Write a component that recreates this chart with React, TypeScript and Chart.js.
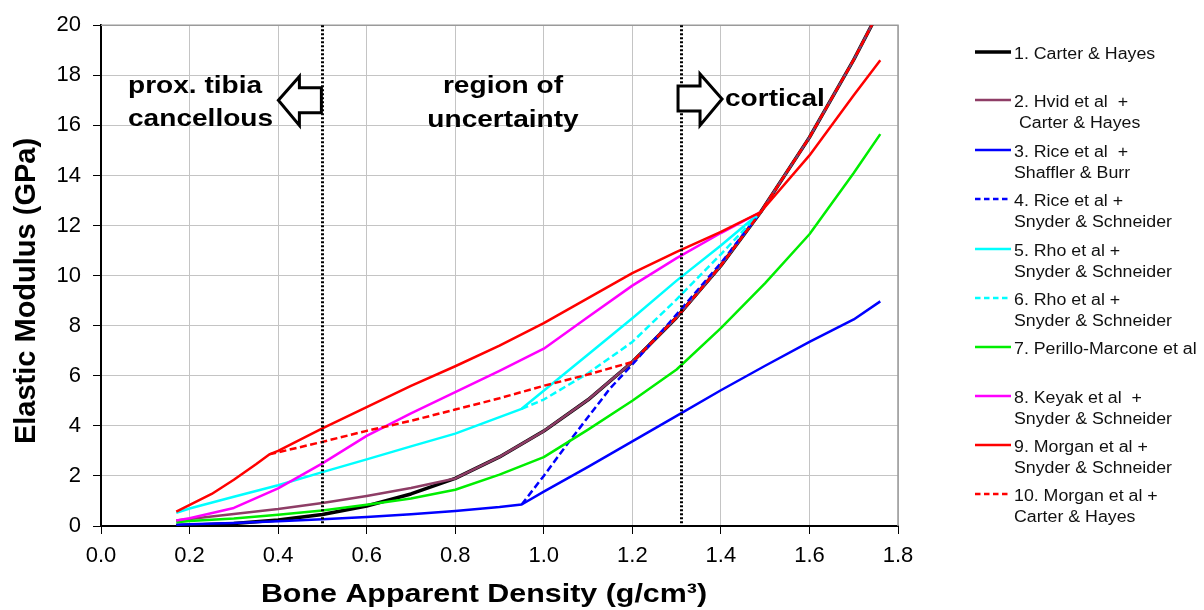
import { useEffect, useRef } from "react";
import { Chart, registerables } from "chart.js";

Chart.register(...registerables);

const FONT = '"Liberation Sans", Arial, Helvetica, sans-serif';

// Bone apparent density (g/cm3) and elastic modulus (GPa) for each relationship
const carterHayesDensity = [0.17, 0.2, 0.3, 0.4, 0.5, 0.6, 0.7, 0.8, 0.9, 1.0, 1.1, 1.2, 1.3, 1.4, 1.49, 1.6, 1.7, 1.76];
const carterHayesModulus = [0.02, 0.03, 0.1, 0.24, 0.46, 0.8, 1.28, 1.9, 2.76, 3.79, 5.04, 6.55, 8.33, 10.4, 12.54, 15.52, 18.62, 20.66];

const hvidDensity = [0.17, 0.2, 0.3, 0.4, 0.5, 0.6, 0.7, 0.8, 0.9, 1.0, 1.1, 1.2, 1.3, 1.4, 1.49, 1.6, 1.7, 1.76];
const hvidModulus = [0.22, 0.28, 0.48, 0.68, 0.92, 1.2, 1.52, 1.9, 2.76, 3.79, 5.04, 6.55, 8.33, 10.4, 12.54, 15.52, 18.62, 20.66];

const riceShafflerDensity = [0.17, 0.2, 0.3, 0.4, 0.5, 0.6, 0.7, 0.8, 0.9, 0.95, 1.0, 1.1, 1.2, 1.3, 1.4, 1.5, 1.6, 1.7, 1.76];
const riceShafflerModulus = [0.05, 0.07, 0.12, 0.19, 0.27, 0.36, 0.47, 0.6, 0.76, 0.86, 1.37, 2.36, 3.38, 4.4, 5.42, 6.4, 7.35, 8.25, 8.97];

const riceSnyderDensity = [0.95, 1.0, 1.05, 1.1, 1.15, 1.2, 1.25, 1.3, 1.4, 1.49];
const riceSnyderModulus = [0.86, 2.0, 3.2, 4.35, 5.5, 6.45, 7.45, 8.45, 10.5, 12.54];

const rhoSnyderDensity = [0.17, 0.2, 0.3, 0.4, 0.5, 0.6, 0.7, 0.8, 0.95, 1.1, 1.2, 1.3, 1.4, 1.49];
const rhoSnyderModulus = [0.53, 0.7, 1.17, 1.63, 2.15, 2.66, 3.18, 3.69, 4.68, 6.85, 8.3, 9.8, 11.2, 12.54];

const rhoCarterDensity = [0.95, 1.0, 1.1, 1.2, 1.3, 1.4, 1.49];
const rhoCarterModulus = [4.68, 5.05, 6.1, 7.35, 9.05, 10.85, 12.54];

const perilloDensity = [0.17, 0.2, 0.3, 0.4, 0.5, 0.6, 0.7, 0.8, 0.9, 1.0, 1.1, 1.2, 1.3, 1.4, 1.5, 1.6, 1.7, 1.76];
const perilloModulus = [0.15, 0.2, 0.3, 0.45, 0.62, 0.85, 1.1, 1.45, 2.05, 2.75, 3.85, 5.0, 6.25, 7.9, 9.7, 11.65, 14.1, 15.65];

const keyakDensity = [0.17, 0.2, 0.3, 0.4, 0.5, 0.6, 0.7, 0.8, 0.9, 1.0, 1.1, 1.2, 1.3, 1.4, 1.49];
const keyakModulus = [0.22, 0.31, 0.72, 1.5, 2.5, 3.6, 4.5, 5.35, 6.2, 7.08, 8.35, 9.6, 10.7, 11.7, 12.54];

const morganSnyderDensity = [0.17, 0.25, 0.3, 0.35, 0.38, 0.4, 0.5, 0.6, 0.7, 0.8, 0.9, 1.0, 1.1, 1.2, 1.3, 1.4, 1.49, 1.6, 1.7, 1.76];
const morganSnyderModulus = [0.57, 1.28, 1.85, 2.47, 2.86, 3.0, 3.9, 4.75, 5.6, 6.38, 7.2, 8.1, 9.1, 10.1, 10.95, 11.75, 12.54, 14.8, 17.2, 18.6];

const morganCarterDensity = [0.38, 0.5, 0.6, 0.7, 0.8, 0.9, 1.0, 1.1, 1.2, 1.3, 1.4, 1.49, 1.6, 1.7, 1.76];
const morganCarterModulus = [2.86, 3.36, 3.8, 4.2, 4.65, 5.1, 5.6, 6.05, 6.55, 8.33, 10.4, 12.54, 15.52, 18.62, 20.66];

// Legend text (one entry per series, split into lines)
const seriesLabels = [
  ["1. Carter & Hayes"],
  ["2. Hvid et al  +", " Carter & Hayes"],
  ["3. Rice et al  +", "Shaffler & Burr"],
  ["4. Rice et al +", "Snyder & Schneider"],
  ["5. Rho et al +", "Snyder & Schneider"],
  ["6. Rho et al +", "Snyder & Schneider"],
  ["7. Perillo-Marcone et al"],
  ["8. Keyak et al  +", "Snyder & Schneider"],
  ["9. Morgan et al +", "Snyder & Schneider"],
  ["10. Morgan et al +", "Carter & Hayes"],
];

// Axis ranges and tick steps
const xRange = [0, 1.8];
const yRange = [0, 20];
const xStep = 0.2;
const yStep = 2;

// Density thresholds separating the three regions
const cancellousLimit = 0.5;
const corticalLimit = 1.31;

const seriesData = [
  [carterHayesDensity, carterHayesModulus],
  [hvidDensity, hvidModulus],
  [riceShafflerDensity, riceShafflerModulus],
  [riceSnyderDensity, riceSnyderModulus],
  [rhoSnyderDensity, rhoSnyderModulus],
  [rhoCarterDensity, rhoCarterModulus],
  [perilloDensity, perilloModulus],
  [keyakDensity, keyakModulus],
  [morganSnyderDensity, morganSnyderModulus],
  [morganCarterDensity, morganCarterModulus],
];

const seriesStyle = [
  { color: "#000000", width: 3.5, dash: [] as number[] },
  { color: "#8e3d66", width: 2.5, dash: [] as number[] },
  { color: "#0000ff", width: 2.5, dash: [] as number[] },
  { color: "#0000ff", width: 2.5, dash: [7, 3.5] },
  { color: "#00ffff", width: 2.5, dash: [] as number[] },
  { color: "#00ffff", width: 2.5, dash: [7, 3.5] },
  { color: "#00ee00", width: 2.5, dash: [] as number[] },
  { color: "#ff00ff", width: 2.5, dash: [] as number[] },
  { color: "#ff0000", width: 2.5, dash: [] as number[] },
  { color: "#ff0000", width: 2.5, dash: [7, 3.5] },
];

const STRETCH = 1.17;
const LEGEND_STRETCH = 1.11;

function wideText(
  ctx: CanvasRenderingContext2D,
  text: string,
  x: number,
  y: number,
  align: CanvasTextAlign,
  sx: number
) {
  ctx.save();
  ctx.translate(x, y);
  ctx.scale(sx, 1);
  ctx.textAlign = align;
  ctx.textBaseline = "alphabetic";
  ctx.fillText(text, 0, 0);
  ctx.restore();
}

const decorations = {
  id: "decorations",
  beforeDatasetsDraw(chart: any) {
    const { ctx, chartArea } = chart;
    // grey plot-area frame on top and right
    ctx.save();
    ctx.strokeStyle = "#9a9a9a";
    ctx.lineWidth = 1.5;
    ctx.beginPath();
    ctx.moveTo(chartArea.left, chartArea.top);
    ctx.lineTo(chartArea.right, chartArea.top);
    ctx.lineTo(chartArea.right, chartArea.bottom);
    ctx.stroke();
    ctx.restore();
  },
  afterDatasetsDraw(chart: any) {
    const { ctx, chartArea } = chart;
    const xs = chart.scales.x;
    const ys = chart.scales.y;

    // dotted region boundaries
    ctx.save();
    ctx.strokeStyle = "#000";
    ctx.lineWidth = 3;
    ctx.setLineDash([2, 2]);
    for (const v of [cancellousLimit, corticalLimit]) {
      const px = Math.round(xs.getPixelForValue(v)) + 0.5;
      ctx.beginPath();
      ctx.moveTo(px, chartArea.top);
      ctx.lineTo(px, chartArea.bottom);
      ctx.stroke();
    }
    ctx.restore();

    // hollow arrows
    const drawArrow = (pts: number[][]) => {
      ctx.save();
      ctx.beginPath();
      pts.forEach(([px, vy], i) => {
        const py = ys.getPixelForValue(vy);
        if (i === 0) ctx.moveTo(px, py);
        else ctx.lineTo(px, py);
      });
      ctx.closePath();
      ctx.fillStyle = "#fff";
      ctx.fill();
      ctx.strokeStyle = "#000";
      ctx.lineWidth = 3;
      ctx.lineJoin = "miter";
      ctx.stroke();
      ctx.restore();
    };
    const lx = xs.getPixelForValue(cancellousLimit);
    drawArrow([
      [lx - 44, 17.0],
      [lx - 23, 17.95],
      [lx - 23, 17.5],
      [lx - 1, 17.5],
      [lx - 1, 16.5],
      [lx - 23, 16.5],
      [lx - 23, 16.0],
    ]);
    const rx = xs.getPixelForValue(corticalLimit);
    drawArrow([
      [rx - 3, 17.57],
      [rx + 19, 17.57],
      [rx + 19, 18.05],
      [rx + 41, 17.05],
      [rx + 19, 16.0],
      [rx + 19, 16.57],
      [rx - 3, 16.57],
    ]);

    // region labels
    ctx.save();
    ctx.fillStyle = "#000";
    ctx.font = `bold 24px ${FONT}`;
    wideText(ctx, "prox. tibia", 128, 93, "left", STRETCH);
    wideText(ctx, "cancellous", 128, 126, "left", STRETCH);
    wideText(ctx, "region of", 503, 93, "center", STRETCH);
    wideText(ctx, "uncertainty", 503, 127, "center", STRETCH);
    wideText(ctx, "cortical", 725, 106, "left", STRETCH);
    ctx.restore();
  },
  afterDraw(chart: any) {
    const { ctx } = chart;
    ctx.save();
    ctx.fillStyle = "#000";

    // axis titles
    ctx.font = `bold 26px ${FONT}`;
    wideText(ctx, "Bone Apparent Density (g/cm³)", 484, 602, "center", STRETCH);

    ctx.save();
    ctx.translate(35, 291);
    ctx.rotate(-Math.PI / 2);
    ctx.font = `bold 29px ${FONT}`;
    ctx.textAlign = "center";
    ctx.textBaseline = "alphabetic";
    ctx.fillText("Elastic Modulus (GPa)", 0, 0);
    ctx.restore();

    // legend
    const rowY = [52, 100, 150, 199, 249, 298, 347, 396, 445, 494];
    ctx.font = `16px ${FONT}`;
    seriesLabels.forEach((lines, i) => {
      const st = seriesStyle[i];
      const y = rowY[i];
      ctx.save();
      ctx.strokeStyle = st.color;
      ctx.lineWidth = st.width;
      ctx.setLineDash(st.dash.length ? [5.5, 3.5] : []);
      ctx.beginPath();
      ctx.moveTo(975, y);
      ctx.lineTo(1011, y);
      ctx.stroke();
      ctx.restore();
      lines.forEach((line, j) => {
        ctx.fillStyle = "#111";
        wideText(ctx, line, 1014, y + 6.5 + j * 21, "left", LEGEND_STRETCH);
      });
    });
    ctx.restore();
  },
};

export default function App() {
  const canvasRef = useRef<HTMLCanvasElement | null>(null);

  useEffect(() => {
    const canvas = canvasRef.current;
    if (!canvas) return;

    const datasets = seriesData.map(([xs, ys], i) => ({
      label: seriesLabels[i].join(" "),
      data: xs.map((x, k) => ({ x, y: ys[k] })),
      showLine: true,
      borderColor: seriesStyle[i].color,
      backgroundColor: seriesStyle[i].color,
      borderWidth: seriesStyle[i].width,
      borderDash: seriesStyle[i].dash,
      borderJoinStyle: "round" as const,
      pointRadius: 0,
      pointHoverRadius: 0,
      fill: false,
      tension: 0,
      order: seriesData.length - 1 - i,
    }));

    const chart = new Chart(canvas, {
      type: "scatter",
      data: { datasets },
      options: {
        animation: false,
        responsive: false,
        maintainAspectRatio: false,
        layout: { padding: { top: 24, right: 306, left: 0, bottom: 0 } },
        plugins: {
          legend: { display: false },
          tooltip: { enabled: false },
        },
        scales: {
          x: {
            type: "linear",
            min: xRange[0],
            max: xRange[1],
            ticks: {
              stepSize: xStep,
              callback: (v: any) => Number(v).toFixed(1),
              font: { family: FONT, size: 22 },
              color: "#000",
              padding: 9,
            },
            grid: { color: "#c4c4c4", tickColor: "#000", tickLength: 8, lineWidth: 1 },
            border: { color: "#000", width: 2 },
            afterFit: (s: any) => {
              s.height = 84;
            },
          },
          y: {
            type: "linear",
            min: yRange[0],
            max: yRange[1],
            ticks: {
              stepSize: yStep,
              font: { family: FONT, size: 22 },
              color: "#000",
              padding: 12,
            },
            grid: { color: "#c4c4c4", tickColor: "#000", tickLength: 8, lineWidth: 1 },
            border: { color: "#000", width: 2 },
            afterFit: (s: any) => {
              s.width = 101;
            },
          },
        },
      },
      plugins: [decorations],
    });

    return () => chart.destroy();
  }, []);

  return (
    <div
      style={{
        position: "fixed",
        left: 0,
        top: 0,
        width: 1204,
        height: 610,
        background: "#fff",
      }}
    >
      <canvas ref={canvasRef} width={1204} height={610} />
    </div>
  );
}
